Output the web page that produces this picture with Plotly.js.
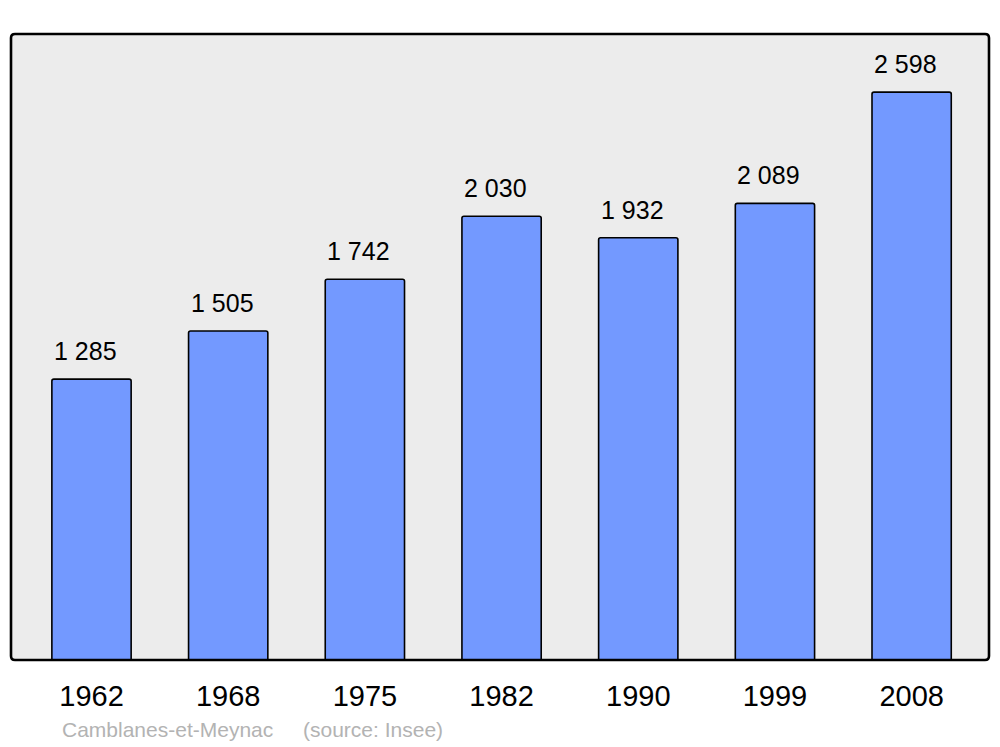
<!DOCTYPE html>
<html>
<head>
<meta charset="utf-8">
<script src="https://cdn.plot.ly/plotly-3.0.1.min.js"></script>
<style>html,body{margin:0;padding:0;background:#fff;}#chart{width:1000px;height:747px;}</style>
</head>
<body>
<div id="chart"></div>
<script>
const years = ["1962", "1968", "1975", "1982", "1990", "1999", "2008"];
const population = [1285, 1505, 1742, 2030, 1932, 2089, 2598];
const valueLabels = ["1 285", "1 505", "1 742", "2 030", "1 932", "2 089", "2 598"];
const captionPlace = "Camblanes-et-Meynac";
const captionSource = "(source: Insee)";

const FONT = "Liberation Sans, Arial, sans-serif";

const trace = {
  type: "bar",
  x: years.map((_, i) => i),
  y: population,
  width: 0.58,
  marker: {color: "#7399ff", line: {color: "#000", width: 1.6}, cornerradius: 2},
  hoverinfo: "none"
};

const annotations = years.map((yr, i) => ({
  x: i, y: population[i], xref: "x", yref: "y",
  text: valueLabels[i], showarrow: false,
  xanchor: "center", yanchor: "bottom", xshift: -6, yshift: 12,
  font: {family: FONT, size: 25, color: "#000"}
}));
annotations.push({
  x: 0.0501, y: -0.1118, xref: "paper", yref: "paper", xanchor: "left", yanchor: "middle",
  text: captionPlace, showarrow: false, font: {family: FONT, size: 21, color: "#b3b3b3"}
});
annotations.push({
  x: 0.2966, y: -0.1118, xref: "paper", yref: "paper", xanchor: "left", yanchor: "middle",
  text: captionSource, showarrow: false, font: {family: FONT, size: 21, color: "#b3b3b3"}
});

const rx = 4 / 978, ry = 4 / 626;
const framePath = `M ${rx} 0 L ${1 - rx} 0 Q 1 0 1 ${ry} L 1 ${1 - ry} Q 1 1 ${1 - rx} 1 L ${rx} 1 Q 0 1 0 ${1 - ry} L 0 ${ry} Q 0 0 ${rx} 0 Z`;

const layout = {
  width: 1000, height: 747,
  margin: {l: 11, r: 11, t: 34, b: 87, pad: 0},
  paper_bgcolor: "#fff",
  plot_bgcolor: "rgba(0,0,0,0)",
  showlegend: false,
  xaxis: {
    range: [-0.589, 6.566],
    tickmode: "array",
    tickvals: years.map((_, i) => i),
    ticktext: years,
    ticks: "", showgrid: false, zeroline: false, showline: false,
    tickfont: {family: FONT, size: 29, color: "#000"},
    ticklabelstandoff: 16,
    fixedrange: true
  },
  yaxis: {
    range: [0, 2864],
    showticklabels: false, showgrid: false, zeroline: false, showline: false, ticks: "",
    fixedrange: true
  },
  shapes: [
    {type: "path", xref: "paper", yref: "paper", path: framePath, layer: "below",
     fillcolor: "#ececec", line: {width: 0}},
    {type: "path", xref: "paper", yref: "paper", path: framePath, layer: "above",
     fillcolor: "rgba(0,0,0,0)", line: {color: "#000", width: 2.6}}
  ],
  annotations: annotations
};

Plotly.newPlot("chart", [trace], layout, {displayModeBar: false, staticPlot: true});
</script>
</body>
</html>
